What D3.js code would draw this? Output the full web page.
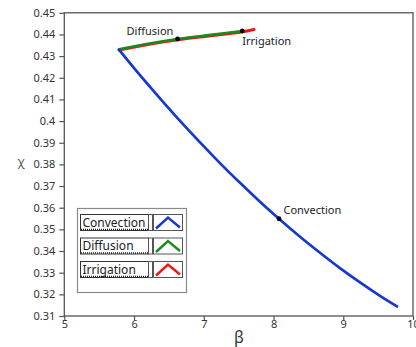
<!DOCTYPE html>
<html>
<head>
<meta charset="utf-8">
<script src="https://cdn.jsdelivr.net/npm/d3@7"></script>
<style>
  html, body { margin: 0; padding: 0; background: #fff; }
  svg { display: block; font-family: "Noto Sans", sans-serif; }
</style>
</head>
<body>
<svg id="chart" width="416" height="347"></svg>
<script>
// β / χ trajectories for the three transport modes
const convectionBeta = [5.784, 6.085, 6.372, 6.659, 6.946, 7.232, 7.519, 7.806, 8.078, 8.380, 8.666, 8.953, 9.240, 9.527, 9.771];
const convectionChi  = [0.4330, 0.4212, 0.4105, 0.4001, 0.3902, 0.3806, 0.3715, 0.3628, 0.3549, 0.3466, 0.3392, 0.3321, 0.3255, 0.3193, 0.3144];

const diffusionBeta = [5.784, 6.2, 6.624, 7.1, 7.552];
const diffusionChi  = [0.4331, 0.4357, 0.4379, 0.4398, 0.4416];

const irrigationBeta = [5.784, 6.2, 6.624, 7.1, 7.552, 7.72];
const irrigationChi  = [0.4328, 0.4353, 0.4375, 0.4394, 0.4412, 0.4423];

// marked operating points and their labels
const markerNames = ["Diffusion", "Irrigation", "Convection"];
const markerBeta  = [6.624, 7.552, 8.078];
const markerChi   = [0.4379, 0.4416, 0.3549];

const seriesNames  = ["Convection", "Diffusion", "Irrigation"];
const seriesColors = ["#1638d0", "#1a8a1a", "#f01515"];

const xTicks = [5, 6, 7, 8, 9, 10];
const yTicks = [0.31, 0.32, 0.33, 0.34, 0.35, 0.36, 0.37, 0.38, 0.39, 0.4, 0.41, 0.42, 0.43, 0.44, 0.45];

const svg = d3.select("#chart");
const plotLeft = 64.3, plotRight = 413, plotTop = 12.8, plotBottom = 316;

const x = d3.scaleLinear().domain([5, 10]).range([plotLeft, plotRight]);
const y = d3.scaleLinear().domain([0.31, 0.45]).range([plotBottom, plotTop]);

// axes
const xAxis = d3.axisBottom(x).tickValues(xTicks).tickFormat(d3.format("d")).tickSize(4).tickSizeOuter(0);
const yAxis = d3.axisLeft(y).tickValues(yTicks).tickFormat(d => String(+d.toFixed(2))).tickSize(5).tickSizeOuter(0);

const gx = svg.append("g").attr("transform", `translate(0,${plotBottom})`).call(xAxis);
const gy = svg.append("g").attr("transform", `translate(${plotLeft},0)`).call(yAxis);
[gx, gy].forEach(g => {
  g.select(".domain").remove();
  g.selectAll(".tick line").attr("stroke", "#555").attr("stroke-width", 1.2);
  g.selectAll(".tick text").attr("fill", "#333").style("font-family", "'Noto Sans', sans-serif").style("font-size", "11px");
});
gx.selectAll(".tick text").attr("y", 8).attr("dy", "0.36em");
gy.selectAll(".tick text").attr("x", -9);

// plot frame
svg.append("rect")
  .attr("x", plotLeft).attr("y", plotTop)
  .attr("width", plotRight - plotLeft).attr("height", plotBottom - plotTop)
  .attr("fill", "none").attr("stroke", "#555").attr("stroke-width", 1.3);

// axis titles
svg.append("text").attr("x", 239).attr("y", 343).attr("text-anchor", "middle")
  .attr("fill", "#333").style("font-size", "16px").text("β");
svg.append("text").attr("x", 21).attr("y", 166).attr("text-anchor", "middle")
  .attr("fill", "#555").style("font-size", "12px").text("χ");

// curves
const line = d3.line().x(d => x(d[0])).y(d => y(d[1])).curve(d3.curveMonotoneX);
const toPts = (bx, cy) => bx.map((b, i) => [b, cy[i]]);

svg.append("path").datum(toPts(irrigationBeta, irrigationChi))
  .attr("d", line).attr("fill", "none").attr("stroke", seriesColors[2])
  .attr("stroke-width", 3).attr("stroke-linecap", "round");
svg.append("path").datum(toPts(diffusionBeta, diffusionChi))
  .attr("d", line).attr("fill", "none").attr("stroke", seriesColors[1])
  .attr("stroke-width", 2.6).attr("stroke-linecap", "round");
svg.append("path").datum(toPts(convectionBeta, convectionChi))
  .attr("d", line).attr("fill", "none").attr("stroke", seriesColors[0])
  .attr("stroke-width", 2.7).attr("stroke-linecap", "round").attr("stroke-linejoin", "round");

// markers
svg.selectAll("circle.marker").data(markerBeta).enter().append("circle")
  .attr("class", "marker")
  .attr("cx", d => x(d)).attr("cy", (d, i) => y(markerChi[i]))
  .attr("r", 2.4).attr("fill", "#000");

// marker labels
const labelOffsets = [[-51, -4], [0, 14], [4.5, -5]];
svg.selectAll("text.mlabel").data(markerNames).enter().append("text")
  .attr("class", "mlabel")
  .attr("x", (d, i) => x(markerBeta[i]) + labelOffsets[i][0])
  .attr("y", (d, i) => y(markerChi[i]) + labelOffsets[i][1])
  .attr("fill", "#222").style("font-size", "11px").text(d => d);

// legend
const lg = svg.append("g");
lg.append("rect").attr("x", 77.5).attr("y", 208.5).attr("width", 109).attr("height", 84)
  .attr("fill", "#fff").attr("stroke", "#8a8a8a").attr("stroke-width", 1.2);

const rowY = [214.5, 238, 261.5];
seriesNames.forEach((name, i) => {
  const ry = rowY[i];
  const row = lg.append("g");
  // name field
  row.append("rect").attr("x", 80.5).attr("y", ry).attr("width", 68).attr("height", 16)
    .attr("fill", "#fff").attr("stroke", "#333").attr("stroke-width", 1);
  row.append("line").attr("x1", 81).attr("x2", 148).attr("y1", ry + 15).attr("y2", ry + 15)
    .attr("stroke", "#222").attr("stroke-width", 1.6).attr("stroke-dasharray", "1,1");
  row.append("rect").attr("x", 148.5).attr("y", ry).attr("width", 4).attr("height", 16)
    .attr("fill", "#fff").attr("stroke", "#555").attr("stroke-width", 1);
  row.append("text").attr("x", 82.5).attr("y", ry + 12).attr("fill", "#222")
    .style("font-size", "12px").text(name);
  // swatch
  row.append("rect").attr("x", 153.5).attr("y", ry).attr("width", 29).attr("height", 16)
    .attr("fill", "#fff").attr("stroke", "#555").attr("stroke-width", 1);
  row.append("polyline")
    .attr("points", `156,${ry + 14} 168,${ry + 3} 180,${ry + 13}`)
    .attr("fill", "none").attr("stroke", seriesColors[i]).attr("stroke-width", 2.4);
});
</script>
</body>
</html>
